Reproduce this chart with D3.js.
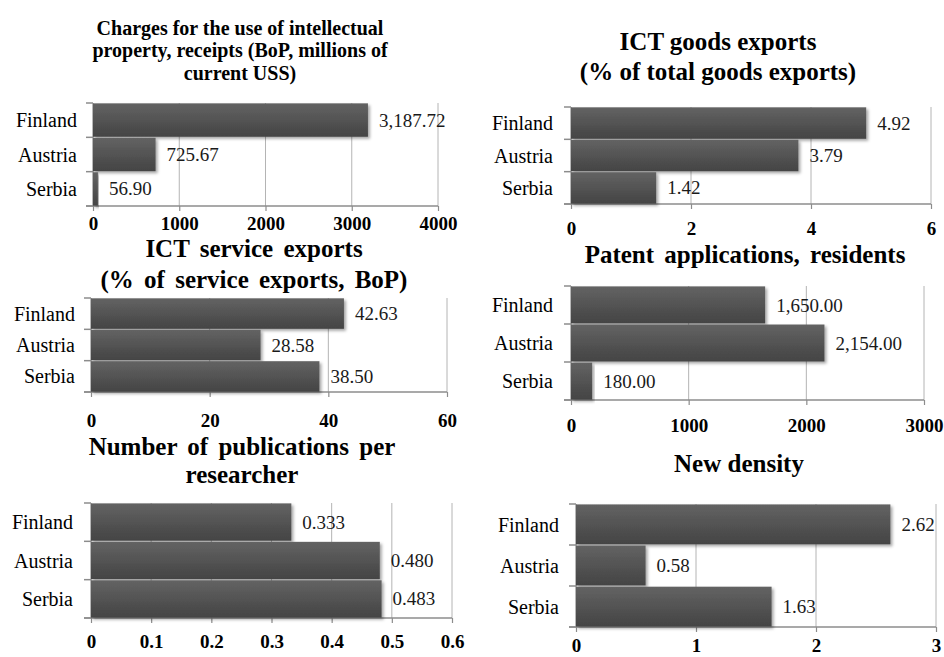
<!DOCTYPE html>
<html>
<head>
<meta charset="utf-8">
<script src="https://cdn.jsdelivr.net/npm/d3@7/dist/d3.min.js"></script>
<style>
  html, body { margin: 0; padding: 0; background: #fff; }
  svg { display: block; }
  svg text { font-family: "Liberation Serif", "Times New Roman", Tinos, "DejaVu Serif", "Noto Serif", FreeSerif, "Nimbus Roman", "Nimbus Roman No9 L", Times, Georgia, serif; }
</style>
</head>
<body>
<svg id="chart" width="944" height="657"></svg>
<script>
// Indicator values for three countries
const countries = ["Finland", "Austria", "Serbia"];

const ipCharges = [3187.72, 725.67, 56.90];
const ictGoods = [4.92, 3.79, 1.42];
const ictServices = [42.63, 28.58, 38.50];
const patents = [1650.00, 2154.00, 180.00];
const publications = [0.333, 0.480, 0.483];
const newDensity = [2.62, 0.58, 1.63];

// Axis tick values
const ipTicks = [0, 1000, 2000, 3000, 4000];
const goodsTicks = [0, 2, 4, 6];
const servicesTicks = [0, 20, 40, 60];
const patentTicks = [0, 1000, 2000, 3000];
const pubTicks = [0, 0.1, 0.2, 0.3, 0.4, 0.5, 0.6];
const densityTicks = [0, 1, 2, 3];

// Panel titles
const ipTitle = ["Charges for the use of intellectual", "property, receipts (BoP, millions  of", "current USS)"];
const goodsTitle = ["ICT goods exports", "(%  of total goods exports)"];
const servicesTitle = ["ICT service exports", "(% of service exports, BoP)"];
const patentTitle = ["Patent applications, residents"];
const pubTitle = ["Number of publications per", "researcher"];
const densityTitle = ["New density"];

const svg = d3.select("#chart");
const defs = svg.append("defs");

const grad = defs.append("linearGradient")
  .attr("id", "barFill").attr("x1", 0).attr("y1", 0).attr("x2", 0).attr("y2", 1);
grad.append("stop").attr("offset", "0%").attr("stop-color", "#636363");
grad.append("stop").attr("offset", "100%").attr("stop-color", "#444444");

const shadow = defs.append("filter").attr("id", "barShadow")
  .attr("x", "-5%").attr("y", "-20%").attr("width", "115%").attr("height", "150%");
shadow.append("feDropShadow")
  .attr("dx", 2).attr("dy", 2).attr("stdDeviation", 1.6)
  .attr("flood-color", "#000").attr("flood-opacity", 0.35);

function drawPanel(cfg) {
  const g = svg.append("g");
  const x = d3.scaleLinear().domain([0, cfg.ticks[cfg.ticks.length - 1]]).range([cfg.x0, cfg.x1]);
  const y = d3.scaleBand().domain(countries).range([cfg.yTop, cfg.yBot]).paddingInner(0.03).paddingOuter(0.01);
  const yb = d3.scaleBand().domain(countries).range([cfg.yTop, cfg.yBot]).padding(0);

  // title
  const t = g.append("text")
    .attr("text-anchor", "middle")
    .attr("font-weight", "bold")
    .attr("font-size", cfg.titleSize)
    .attr("word-spacing", cfg.wordSpacing || 0)
    .attr("fill", "#000");
  cfg.title.forEach((line, i) => {
    t.append("tspan").attr("x", cfg.titleX).attr("y", cfg.titleY[i]).text(line);
  });

  // vertical gridlines
  g.append("g").selectAll("line").data(cfg.ticks.slice(1)).join("line")
    .attr("x1", d => x(d)).attr("x2", d => x(d))
    .attr("y1", cfg.yTop).attr("y2", cfg.yBot)
    .attr("stroke", "#b4b4b4").attr("stroke-width", 1);

  // bottom axis with small tick marks
  const ax = g.append("g")
    .attr("transform", `translate(0,${cfg.yBot})`)
    .call(d3.axisBottom(x).tickValues(cfg.ticks).tickSize(5).tickFormat(d => String(d)));
  ax.attr("font-family", null);
  ax.select(".domain").attr("stroke", "#8c8c8c").attr("stroke-width", 1.5)
    .attr("d", `M${cfg.x0 - 7},0H${cfg.x1}`);
  ax.selectAll(".tick line").attr("stroke", "#8c8c8c").attr("stroke-width", 1.2);
  ax.selectAll(".tick text")
    .attr("font-size", 19).attr("font-weight", "bold").attr("fill", "#000")
    .attr("dy", null)
    .attr("y", cfg.tickY - cfg.yBot);

  // left axis: line and tick marks at category boundaries
  const bounds = countries.map(c => yb(c)).concat([cfg.yBot]);
  g.append("line").attr("x1", cfg.x0).attr("x2", cfg.x0).attr("y1", cfg.yTop).attr("y2", cfg.yBot)
    .attr("stroke", "#8c8c8c").attr("stroke-width", 1.2);
  g.append("g").selectAll("line").data(bounds).join("line")
    .attr("x1", cfg.x0 - 7).attr("x2", cfg.x0)
    .attr("y1", d => d).attr("y2", d => d)
    .attr("stroke", "#8c8c8c").attr("stroke-width", 1.5);

  // bars
  g.append("g").selectAll("rect").data(cfg.values).join("rect")
    .attr("x", x(0))
    .attr("y", (d, i) => y(countries[i]))
    .attr("width", d => x(d) - x(0))
    .attr("height", y.bandwidth())
    .attr("fill", "url(#barFill)")
    .attr("filter", "url(#barShadow)");

  // category labels
  g.append("g").selectAll("text").data(countries).join("text")
    .attr("x", cfg.labelX)
    .attr("y", c => yb(c) + yb.bandwidth() / 2)
    .attr("dy", "0.35em")
    .attr("text-anchor", "end")
    .attr("font-size", 20)
    .attr("fill", "#000")
    .text(c => c);

  // value labels
  g.append("g").selectAll("text").data(cfg.values).join("text")
    .attr("x", d => x(d) + 11)
    .attr("y", (d, i) => yb(countries[i]) + yb.bandwidth() / 2)
    .attr("dy", "0.35em")
    .attr("font-size", 19)
    .attr("fill", "#1a1a1a")
    .text(d => d3.format(cfg.fmt)(d));
}

drawPanel({ values: ipCharges, ticks: ipTicks, title: ipTitle, fmt: ",.2f",
  x0: 93, x1: 438, yTop: 103, yBot: 206, titleX: 240, titleY: [35, 57, 80], titleSize: 20,
  labelX: 77, tickY: 230 });
drawPanel({ values: ictGoods, ticks: goodsTicks, title: goodsTitle, fmt: ".2f",
  x0: 571, x1: 931, yTop: 107, yBot: 204, titleX: 718, titleY: [50, 80], titleSize: 25,
  labelX: 553, tickY: 235 });
drawPanel({ values: ictServices, ticks: servicesTicks, title: servicesTitle, fmt: ".2f",
  x0: 91, x1: 447, yTop: 298, yBot: 392, titleX: 254, titleY: [257, 288], titleSize: 25, wordSpacing: 4,
  labelX: 75, tickY: 427 });
drawPanel({ values: patents, ticks: patentTicks, title: patentTitle, fmt: ",.2f",
  x0: 571, x1: 924, yTop: 286, yBot: 400, titleX: 745, titleY: [263], titleSize: 25, wordSpacing: 4,
  labelX: 553, tickY: 432 });
drawPanel({ values: publications, ticks: pubTicks, title: pubTitle, fmt: ".3f",
  x0: 91, x1: 452, yTop: 503, yBot: 618, titleX: 242, titleY: [455, 483], titleSize: 25, wordSpacing: 4,
  labelX: 73, tickY: 648 });
drawPanel({ values: newDensity, ticks: densityTicks, title: densityTitle, fmt: ".2f",
  x0: 576, x1: 936, yTop: 504, yBot: 627, titleX: 739, titleY: [472], titleSize: 25,
  labelX: 559, tickY: 652 });
</script>
</body>
</html>
